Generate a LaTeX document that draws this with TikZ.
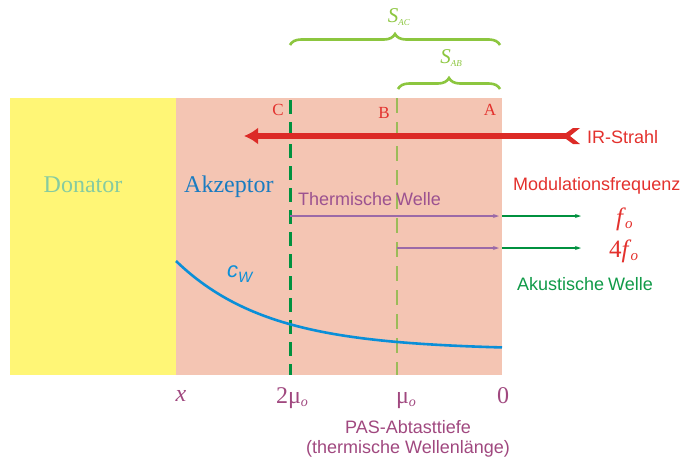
\documentclass[tikz,border=0pt]{standalone}
\usepackage{fontspec}
\setmainfont{Liberation Serif}
\setsansfont{Liberation Sans}
\usetikzlibrary{decorations.pathreplacing,arrows.meta}
\definecolor{pinkbg}{HTML}{F4C5B3}
\definecolor{yellowbg}{HTML}{FFF676}
\definecolor{dkgreen}{HTML}{00913F}
\definecolor{ltgreen}{HTML}{9BBB59}
\definecolor{brgreen}{HTML}{8CC63F}
\definecolor{irred}{HTML}{DC2A26}
\definecolor{lbred}{HTML}{E3312D}
\definecolor{purparrow}{HTML}{9B6AA8}
\definecolor{purptext}{HTML}{9C5290}
\definecolor{axpurple}{HTML}{A0487F}
\definecolor{curveblue}{HTML}{0A8FD8}
\definecolor{akzblue}{HTML}{1A7CC1}
\definecolor{donteal}{HTML}{86CBA0}
\definecolor{txgreen}{HTML}{109A48}
\tikzset{
  fs/.style={font=\rmfamily\fontsize{#1}{#1}\selectfont},
  lbl/.style={inner sep=0pt, anchor=base},
  sansl/.style={lbl, font=\sffamily\fontsize{18}{18}\selectfont},
  brace/.style={draw=brgreen, line width=2.6pt, decorate, decoration={brace, amplitude=11pt}},
  wave/.style={-{Stealth[length=6pt,width=4pt]}, draw=purparrow, line width=1.6pt},
  acoustic/.style={-{Stealth[length=6pt,width=4pt]}, draw=dkgreen, line width=2.4pt},
}
\begin{document}
\begin{tikzpicture}[x=1pt,y=-1pt]
\useasboundingbox (0,0) rectangle (683,459);
% regions
\fill[yellowbg] (10,98) rectangle (176,375);
\fill[pinkbg] (176,98) rectangle (502,375);
% coordinates
\coordinate (Ctop) at (290,100);
\coordinate (Cbot) at (290,375);
\coordinate (Btop) at (397,98);
\coordinate (Bbot) at (397,375);
% dashed lines
\draw[dkgreen, line width=3pt, dash pattern=on 14pt off 8pt] (Ctop) -- (Cbot);
\draw[ltgreen, line width=2pt, dash pattern=on 15pt off 9pt] (Btop) -- (Bbot);
% concentration curve
\draw[curveblue, line width=2.6pt] plot[domain=176:502, samples=80, variable=\t] ({\t},{350-89*exp(-(\t-176)/92)});
% labels C B A
\node[lbl, text=lbred, fs=17] (lC) at (278,115) {C};
\node[lbl, text=lbred, fs=17] (lB) at (384,118) {B};
\node[lbl, text=lbred, fs=17] (lA) at (490,115) {A};
% IR beam
\coordinate (irtail) at (568,136);
\coordinate (irtip) at (244,136);
\draw[irred, line width=6pt, -{Latex[length=14pt,width=17pt]}] (irtail) -- (irtip);
\fill[irred] (562,136) -- (573,128) -- (580,128) -- (570,136) -- (580,144) -- (573,144) -- cycle;
\node[sansl, anchor=base west, text=lbred] (ir) at (587,143) {IR-Strahl};
% regions text
\node[lbl, text=donteal, fs=24] (don) at (83,192) {Donator};
\node[lbl, anchor=base west, text=akzblue, fs=24] (akz) at (184,192) {Akzeptor};
\node[lbl, anchor=base west, text=curveblue, font=\sffamily\itshape\fontsize{22}{22}\selectfont] (cw) at (227,277) {c\raisebox{-5pt}{\fontsize{15}{15}\selectfont W}};
% thermal waves
\node[sansl, anchor=base west, text=purptext] (tw) at (298,205) {Thermische\hspace{-1pt} Welle};
\coordinate (w1s) at (290,216);
\coordinate (w1e) at (499,216);
\coordinate (w2s) at (397,248);
\coordinate (w2e) at (499,248);
\coordinate (a1s) at (502,216);
\coordinate (a1e) at (581,216);
\coordinate (a2s) at (502,248);
\coordinate (a2e) at (581,248);
\draw[wave] (w1s) -- (w1e);
\draw[wave] (w2s) -- (w2e);
\draw[acoustic] (a1s) -- (a1e);
\draw[acoustic] (a2s) -- (a2e);
% frequencies
\node[sansl, anchor=base west, text=lbred] (mod) at (513,190) {Modulationsfrequenz};
\node[lbl, anchor=base west, text=lbred, fs=25] (f0) at (616,225) {\textit{f}\kern-1pt\raisebox{-3pt}{\fontsize{15}{15}\selectfont\textit{o}}};
\node[lbl, anchor=base west, text=lbred, fs=25] (f4) at (609,257) {4\textit{f}\kern-1pt\raisebox{-3pt}{\fontsize{15}{15}\selectfont\textit{o}}};
\node[sansl, anchor=base west, text=txgreen] (ak) at (517,290) {Akustische\hspace{-1pt} Welle};
% braces
\coordinate (bAC1) at (290,45);
\coordinate (bAC2) at (500,45);
\coordinate (bAB1) at (398,89);
\coordinate (bAB2) at (500,89);
\draw[brace] (bAC1) -- (bAC2);
\draw[brace] (bAB1) -- (bAB2);
\node[lbl, text=brgreen, fs=21] (sac) at (399,22) {\textit{S}\raisebox{-3pt}{\fontsize{9}{9}\selectfont\textit{AC}}};
\node[lbl, text=brgreen, fs=21] (sab) at (451,63) {\textit{S}\raisebox{-3pt}{\fontsize{9}{9}\selectfont\textit{AB}}};
% axis labels
\node[lbl, text=axpurple, fs=24] (lx) at (181,401) {\textit{x}};
\node[lbl, text=axpurple, fs=24] (l2m) at (292,403) {2μ\raisebox{-3pt}{\fontsize{14}{14}\selectfont\textit{o}}};
\node[lbl, text=axpurple, fs=24] (lm) at (406,403) {μ\raisebox{-3pt}{\fontsize{14}{14}\selectfont\textit{o}}};
\node[lbl, text=axpurple, fs=24] (l0) at (503,403) {0};
\node[sansl, text=axpurple] (pas1) at (408,433) {PAS-Abtasttiefe};
\node[sansl, text=axpurple] (pas2) at (408,453) {(thermische Wellenlänge)};
\end{tikzpicture}
\end{document}
